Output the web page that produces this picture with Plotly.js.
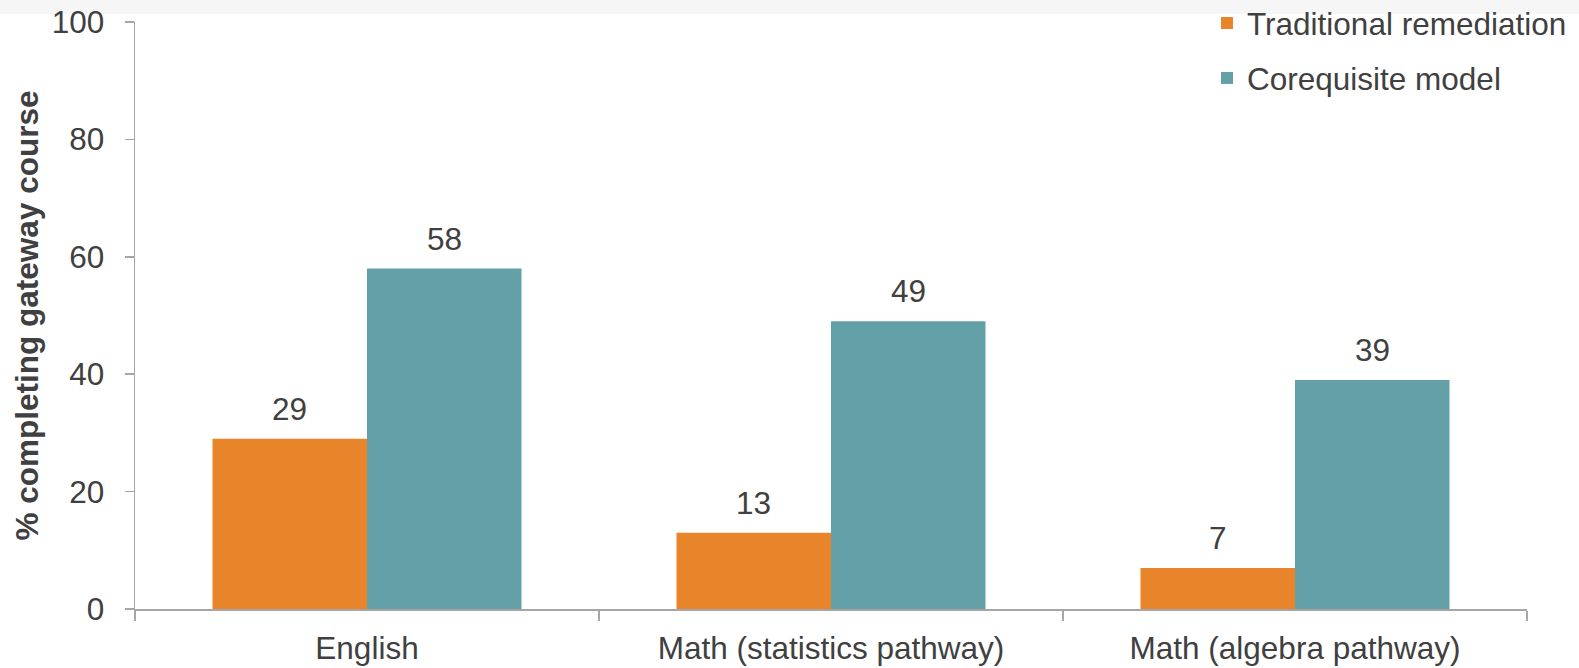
<!DOCTYPE html>
<html>
<head>
<meta charset="utf-8">
<script src="https://cdn.plot.ly/plotly-3.0.1.min.js"></script>
<style>html,body{margin:0;padding:0;background:#fff;}#chart{width:1579px;height:668px;}</style>
</head>
<body>
<div id="chart"></div>
<script>
const categories = ["English", "Math (statistics pathway)", "Math (algebra pathway)"];
const seriesNames = ["Traditional remediation", "Corequisite model"];
const traditional = [29, 13, 7];
const corequisite = [58, 49, 39];
const yTicks = [0, 20, 40, 60, 80, 100];

const W = 1579, H = 668;
const M = {l: 135, r: 52, t: 22, b: 58.5, autoexpand: false};
const plotH = H - M.t - M.b;
const plotW = W - M.l - M.r;
const catW = plotW / categories.length;
const bargap = 0.334;
const barW = catW * (1 - bargap) / 2;

const FONT = "Liberation Sans, Arial, sans-serif";
const FS = 31.5;
const TXT = "#404040";
const ORANGE = "#E8852A";
const TEAL = "#64A0A7";
const AX = "#A6A6A6";

const traces = [
  {type: "bar", name: seriesNames[0], x: categories, y: traditional,
   marker: {color: ORANGE, line: {width: 0}}, legendgroup: "a", hoverinfo: "none"},
  {type: "bar", name: seriesNames[1], x: categories, y: corequisite,
   marker: {color: TEAL, line: {width: 0}}, legendgroup: "b", hoverinfo: "none"}
];

const annotations = [];
[traditional, corequisite].forEach((arr, si) => {
  arr.forEach((v, i) => {
    annotations.push({
      x: categories[i], y: v, xref: "x", yref: "y",
      xshift: (si === 0 ? -1 : 1) * barW / 2,
      yshift: 10, yanchor: "bottom", showarrow: false,
      text: String(v), font: {family: FONT, size: FS, color: TXT}
    });
  });
});

const layout = {
  width: W, height: H,
  margin: M,
  paper_bgcolor: "#ffffff", plot_bgcolor: "#ffffff",
  font: {family: FONT, size: FS, color: TXT},
  barmode: "group", bargap: bargap, bargroupgap: 0,
  showlegend: true,
  legend: {x: (1207 - M.l) / plotW, xanchor: "left", y: 1 + (M.t + 4) / plotH, yanchor: "top",
           font: {family: FONT, size: FS, color: TXT}, tracegroupgap: 11,
           bgcolor: "rgba(0,0,0,0)", itemclick: false},
  xaxis: {type: "category", showgrid: false, zeroline: false,
          showline: true, linecolor: AX, linewidth: 1.5,
          ticks: "outside", tickson: "boundaries", ticklen: 10, tickcolor: AX, tickwidth: 1.5,
          ticklabelstandoff: 11,
          tickfont: {family: FONT, size: FS, color: TXT}, fixedrange: true},
  yaxis: {range: [0, 100], tickvals: yTicks, ticktext: yTicks.map(String),
          showgrid: false, zeroline: false,
          showline: true, linecolor: AX, linewidth: 1.5,
          ticks: "outside", ticklen: 9, tickcolor: AX, tickwidth: 1.5,
          ticklabelstandoff: 14,
          tickfont: {family: FONT, size: FS, color: TXT},
          title: {text: "<b>% completing gateway course</b>", standoff: 3,
                  font: {family: FONT, size: FS, color: TXT}},
          automargin: false, fixedrange: true},
  shapes: [{type: "rect", xref: "paper", yref: "paper", layer: "below",
            x0: -M.l / plotW, x1: 1 + M.r / plotW,
            y0: 1 + (M.t - 14) / plotH, y1: 1 + M.t / plotH,
            fillcolor: "#F6F6F6", line: {width: 0}}],
  annotations: annotations
};

Plotly.newPlot("chart", traces, layout, {displayModeBar: false, staticPlot: true});
</script>
</body>
</html>
